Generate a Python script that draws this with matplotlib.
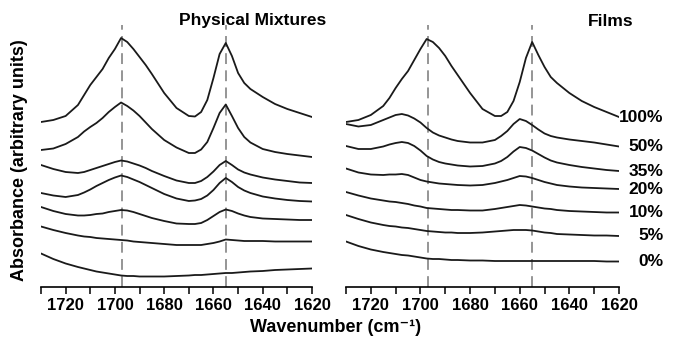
import numpy as np
import matplotlib
matplotlib.use('Agg')
import matplotlib.pyplot as plt

plt.rcParams['font.family'] = ['Liberation Sans', 'DejaVu Sans']

# wavenumber grid (cm-1) shared by all spectra
wn = [1730, 1725, 1720, 1715, 1712.5, 1710, 1707.5, 1705, 1702.5, 1700, 1697.5, 1695,
      1692.5, 1690, 1687.5, 1685, 1680, 1675, 1670, 1667.5, 1665, 1662.5, 1660, 1657.5,
      1655, 1652.5, 1650, 1647.5, 1645, 1640, 1635, 1630, 1625, 1620]

labels = ['100%', '50%', '35%', '20%', '10%', '5%', '0%']

# absorbance (arbitrary units, stacked) - physical mixtures
pm_100 = [165, 167, 171, 182, 192, 202, 210, 218, 229, 238, 249, 245, 238, 230, 222, 213, 194,
          179, 171, 170.5, 175, 187, 209, 233, 244, 231, 214, 204, 198, 190, 183, 178, 174, 170]
pm_50 = [137, 138.5, 143, 150, 155.5, 160, 164, 169, 175, 180, 184.5, 181, 176.5, 171, 164.5, 158,
         147, 139.5, 134, 134, 137.5, 145, 159, 174, 182.5, 171, 159, 150, 144.5, 138, 135, 133,
         131.5, 130]
pm_35 = [122, 118, 115, 114, 115, 117, 119, 121, 123, 125, 126.5, 125.5, 123.5, 121.5, 119, 116,
         111, 106.5, 104, 104, 106, 110, 115.5, 122, 126, 122, 117.5, 114.5, 112.5, 109.5, 107.5,
         106, 104.5, 104]
pm_20 = [94, 91.5, 90, 92, 94.5, 97.5, 101, 104, 107, 109.5, 111.5, 110, 107.5, 105, 102, 99, 93,
         88.5, 86, 86.5, 88, 91.5, 97, 104, 109, 105, 100, 96.5, 94, 90.5, 88.5, 87, 86, 85.5]
pm_10 = [80, 76, 73, 71.5, 71.5, 72, 73, 73.5, 75, 76, 77, 76.5, 75, 73, 71, 69, 66, 63.5, 63, 63,
         64, 67, 71, 75, 77.5, 76, 73.5, 71.5, 70, 68.5, 68, 67.5, 67, 67]
pm_5 = [60.5, 57, 54, 51.5, 50.5, 50, 49, 48.5, 48, 47.5, 47, 46.5, 45.5, 45, 44.5, 44, 43, 42,
        42, 42, 42, 43, 44, 45.5, 47.5, 47, 46.5, 46, 46, 46, 45.5, 45.5, 45.5, 45.5]
pm_0 = [33.5, 28, 23.5, 20, 18.5, 17, 15.5, 14.5, 13.5, 12.5, 11.5, 11, 11, 10.5, 10.5, 10.5,
        10.5, 11, 11.5, 12, 12, 12.5, 13, 13.5, 14, 14, 14.5, 15, 15.5, 16, 17, 17.5, 18, 18.5]

# absorbance (arbitrary units, stacked) - films
fi_100 = [165, 167, 172, 181, 189, 199, 208, 216, 227, 238, 248, 245, 239, 231, 221, 212, 194,
          178, 171, 171, 175, 186, 205, 229, 245, 232, 220, 210, 204, 194, 186, 180, 175, 170]
fi_50 = [163, 160.5, 162, 167, 169.5, 172, 173, 171.5, 168.5, 164.5, 159, 154.5, 151.5, 149.5,
         147.5, 146, 144.5, 144.5, 147, 151, 156, 163, 168, 166, 162, 157.5, 153.5, 151, 149.5,
         147.5, 146, 144.5, 142.5, 140.5]
fi_35 = [141, 138, 138, 140.5, 142.5, 144, 145, 144, 141, 136.5, 131, 127.5, 125, 123.5, 122.5,
         121.5, 120.5, 121, 123.5, 126, 130, 135.5, 140, 139, 136.5, 133, 129.5, 126.5, 124.5,
         122, 120, 118.5, 117, 116]
fi_20 = [118.5, 114.5, 112.5, 112, 112.5, 112.5, 113, 112, 109.5, 107, 105.5, 104.5, 103.5, 103,
         102.5, 102, 101.5, 102, 104, 105.5, 107, 109, 111, 110.5, 109, 107, 105, 103.5, 102,
         100.5, 99.5, 99, 98.5, 98]
fi_10 = [95, 91.5, 88.5, 86.5, 85.5, 85, 84, 83, 81.5, 80.5, 79, 78.5, 78, 77.5, 77, 77, 76.5,
         76.5, 78, 79, 80, 81, 82, 81.5, 80.5, 79.5, 78.5, 78, 77, 76, 75.5, 75, 74.5, 74.5]
fi_5 = [72, 68, 64.5, 62, 61, 60.5, 59.5, 59, 58, 57, 56, 55.5, 55, 54.5, 54.5, 54, 54, 54.5,
        55.5, 56, 56.5, 57, 57, 57, 56.5, 55.5, 54.5, 54, 53, 52.5, 52, 51.5, 51.5, 51]
fi_0 = [45.5, 41, 37.5, 35, 34, 33, 32, 31.5, 30.5, 29.5, 28.5, 28, 28, 27.5, 27, 27, 26.5, 26.5,
        26, 26, 26, 26, 26, 26, 26, 26, 26, 26, 26, 26, 26, 26, 25.5, 25.5]

ref_lines = [1697, 1655]

pm = [pm_100, pm_50, pm_35, pm_20, pm_10, pm_5, pm_0]
films = [fi_100, fi_50, fi_35, fi_20, fi_10, fi_5, fi_0]

fig = plt.figure(figsize=(6.74, 3.39), dpi=100)
ax1 = fig.add_axes([41/674, 52/339, 271/674, 262/339])
ax2 = fig.add_axes([346/674, 52/339, 273/674, 262/339])

for ax, data in [(ax1, pm), (ax2, films)]:
    for s in data:
        ax.plot(wn, s, color='#1a1a1a', lw=1.3, solid_joinstyle='round')
    for r in ref_lines:
        ax.axvline(r, color='#8c8c8c', lw=1.3, ls=(0, (6, 3.5)), zorder=0)
    ax.set_xlim(1730, 1620)
    ax.set_ylim(0, 262)
    for sp in ['left', 'right', 'top']:
        ax.spines[sp].set_visible(False)
    ax.spines['bottom'].set_linewidth(1.2)
    ax.set_yticks([])
    ax.set_xticks([1720, 1700, 1680, 1660, 1640, 1620])
    ax.set_xticks(np.arange(1730, 1619, -10), minor=True)
    ax.tick_params(axis='x', which='major', length=5, width=1.1, direction='out',
                   labelsize=12, pad=3)
    ax.tick_params(axis='x', which='minor', length=5, width=1.1, direction='out')
    for t in ax.get_xticklabels():
        t.set_fontweight('bold')

for lab, s in zip(labels, films):
    ax2.annotate(lab, xy=(1620, s[-1]), xytext=(32, 0), textcoords='offset points',
                 ha='right', va='center', fontsize=12.5, fontweight='bold')

fig.text(253/674, 1 - 20/339, 'Physical Mixtures', ha='center', va='center',
         fontsize=12.5, fontweight='bold')
fig.text(611/674, 1 - 22/339, 'Films', ha='center', va='center',
         fontsize=12.5, fontweight='bold')
fig.text(20/674, 1 - 160/339, 'Absorbance (arbitrary units)', rotation=90,
         ha='center', va='center', fontsize=13, fontweight='bold')
fig.text(336/674, 1 - 327/339, 'Wavenumber (cm\u207b\u00b9)', ha='center', va='center',
         fontsize=13, fontweight='bold')

fig.savefig('out.png', dpi=100)
